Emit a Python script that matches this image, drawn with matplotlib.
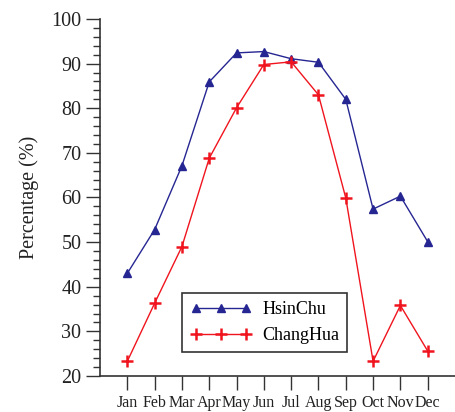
import numpy as np
import matplotlib.pyplot as plt
from matplotlib.ticker import MultipleLocator

months = ["Jan", "Feb", "Mar", "Apr", "May", "Jun",
          "Jul", "Aug", "Sep", "Oct", "Nov", "Dec"]
hsinchu = [43.0, 52.8, 67.1, 85.9, 92.4, 92.7, 91.1, 90.3, 82.0, 57.4, 60.3, 50.1]
changhua = [23.3, 36.3, 49.0, 68.8, 80.1, 89.8, 90.4, 83.0, 59.9, 23.3, 35.8, 25.6]

plt.rcParams['font.family'] = ['Liberation Serif', 'DejaVu Serif']

fig = plt.figure(figsize=(4.55, 4.12), dpi=100)
ax = fig.add_axes([0.2198, 0.0874, 0.7802, 0.8665])

x = np.arange(1, len(months) + 1)
ax.plot(x, hsinchu, color='#262693', lw=1.0, marker='^', ms=6,
        label='HsinChu')
ax.plot(x, changhua, color='#f0141e', lw=1.0, marker='+', ms=8, mew=1.8,
        label='ChangHua')

ax.set_xlim(0, 13)
ax.set_ylim(20, 100)
ax.set_xticks(x)
ax.set_xticklabels(months, fontsize=11.5)
ax.yaxis.set_major_locator(MultipleLocator(10))
ax.yaxis.set_minor_locator(MultipleLocator(2))
ax.tick_params(axis='y', which='major', length=10, width=1, labelsize=14.5,
               color='#333333', labelcolor='#222222')
ax.tick_params(axis='y', which='minor', length=5, width=1, color='#333333')
ax.tick_params(axis='x', which='major', length=10, width=1, pad=4,
               color='#333333', labelcolor='#222222')

for s in ['top', 'right']:
    ax.spines[s].set_visible(False)
for s in ['left', 'bottom']:
    ax.spines[s].set_linewidth(1.2)
    ax.spines[s].set_color('#333333')

ax.set_ylabel('Percentage (%)', fontsize=14.5, color='#222222', labelpad=9)

leg = ax.legend(loc='lower left', bbox_to_anchor=(0.231, 0.067), numpoints=3,
                fontsize=13, fancybox=False, framealpha=1, handlelength=3.4,
                borderpad=0.45, labelspacing=0.5, handletextpad=0.6,
                borderaxespad=0)
leg.get_frame().set_edgecolor('#333333')
leg.get_frame().set_linewidth(1.2)

fig.savefig('out.png', dpi=100)
